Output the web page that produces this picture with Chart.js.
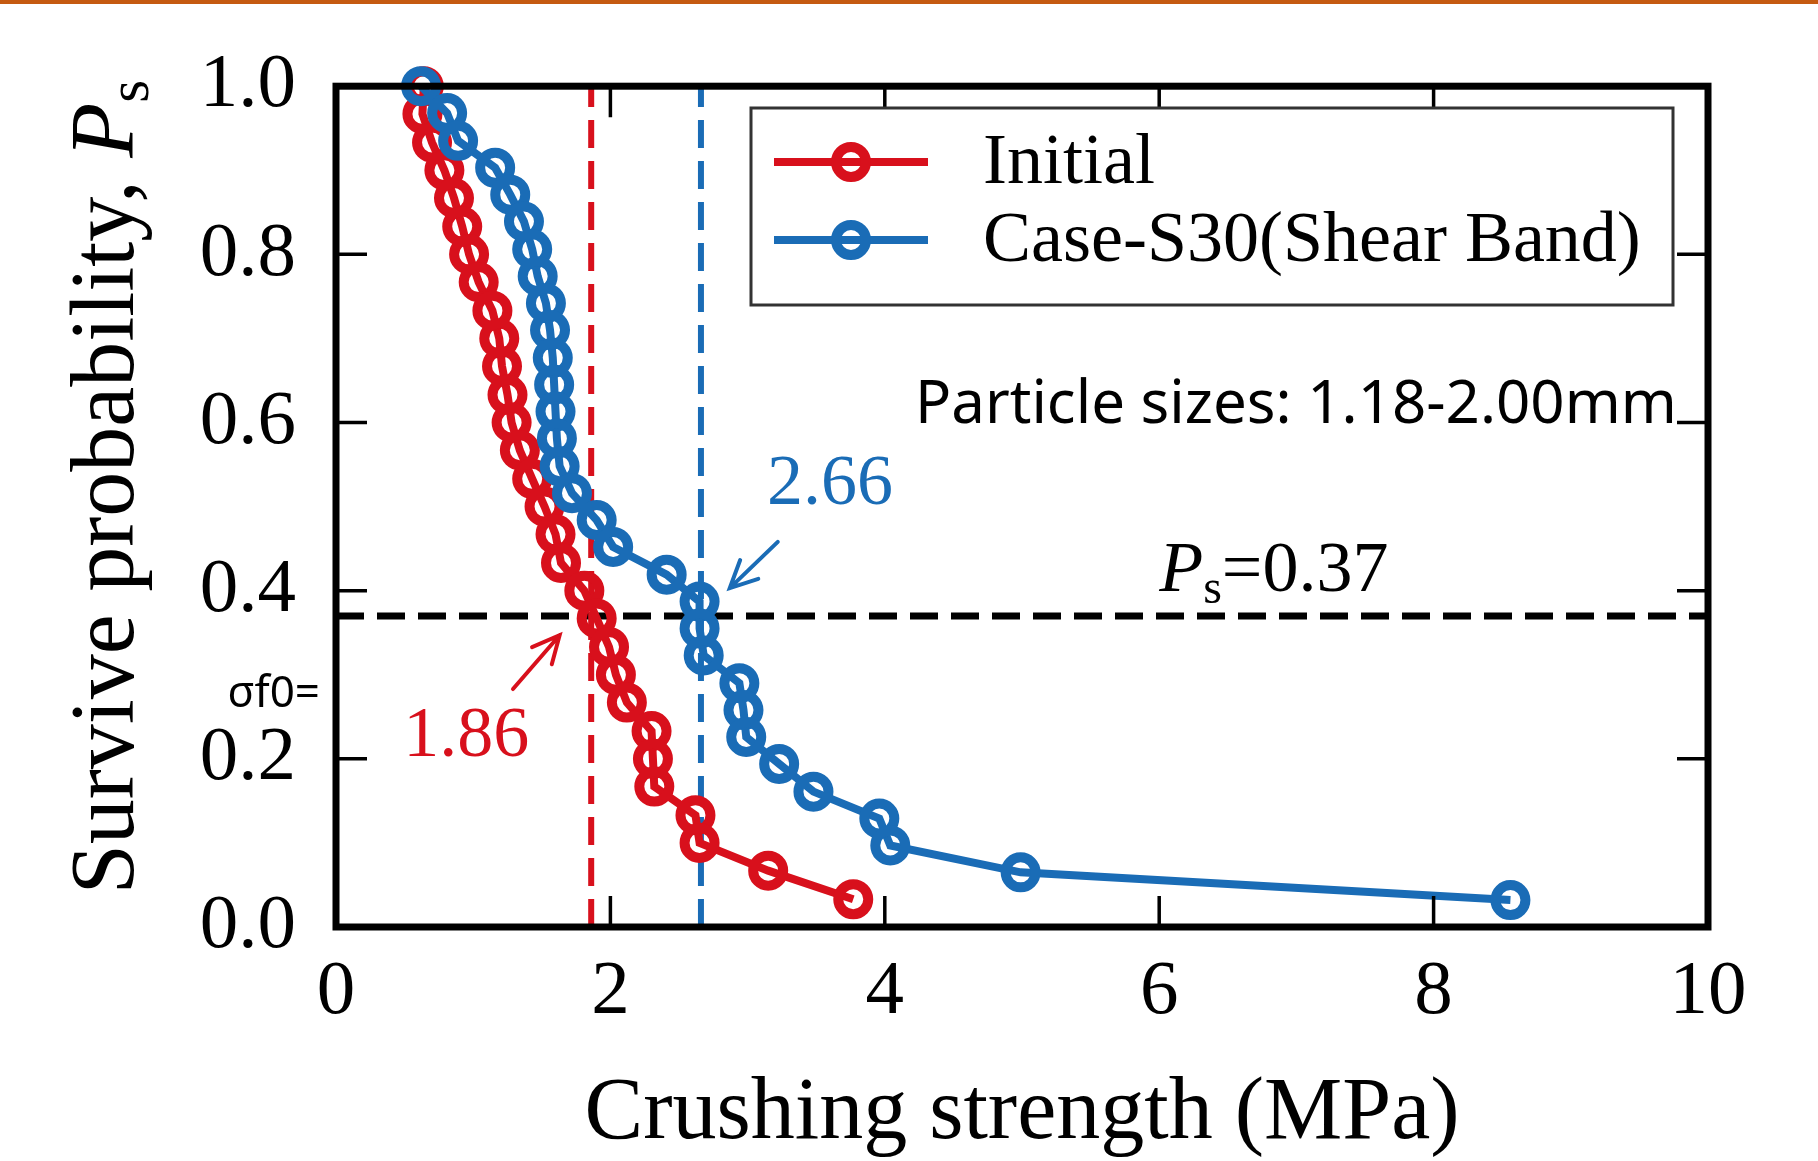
<!DOCTYPE html>
<html>
<head>
<meta charset="utf-8">
<script src="https://cdn.jsdelivr.net/npm/chart.js@4.4.0/dist/chart.umd.min.js"></script>
<style>
  html, body { margin: 0; padding: 0; background: #fff; }
  #wrap { width: 1818px; height: 1161px; }
</style>
</head>
<body>
<div id="wrap"><canvas id="chart" width="1818" height="1161"></canvas></div>
<script>
// survival probability (Ps) and crushing strength (MPa) per particle
var initialProb = [1.000, 0.967, 0.933, 0.900, 0.867, 0.833, 0.800, 0.767, 0.733, 0.700,
                   0.667, 0.633, 0.600, 0.567, 0.533, 0.500, 0.467, 0.433, 0.400, 0.367,
                   0.333, 0.300, 0.267, 0.233, 0.200, 0.167, 0.133, 0.100, 0.067, 0.033];
var initialStrength = [0.64, 0.63, 0.70, 0.79, 0.86, 0.92, 0.97, 1.04, 1.14, 1.19,
                       1.21, 1.25, 1.28, 1.34, 1.43, 1.52, 1.60, 1.64, 1.81, 1.90,
                       1.99, 2.04, 2.12, 2.30, 2.31, 2.32, 2.62, 2.65, 3.15, 3.77];

var shearProb = [1.000, 0.968, 0.935, 0.903, 0.871, 0.839, 0.806, 0.774, 0.742, 0.710,
                 0.677, 0.645, 0.613, 0.581, 0.548, 0.516, 0.484, 0.452, 0.419, 0.387,
                 0.355, 0.323, 0.290, 0.258, 0.226, 0.194, 0.161, 0.129, 0.097, 0.065, 0.032];
var shearStrength = [0.62, 0.81, 0.89, 1.16, 1.27, 1.37, 1.43, 1.47, 1.53, 1.56,
                     1.58, 1.59, 1.60, 1.61, 1.63, 1.72, 1.90, 2.02, 2.41, 2.65,
                     2.65, 2.68, 2.94, 2.97, 2.99, 3.23, 3.48, 3.96, 4.04, 4.99, 8.56];

var xTicks = [0, 2, 4, 6, 8, 10];
var yTicks = [0, 0.2, 0.4, 0.6, 0.8, 1.0];

// characteristic strengths at Ps = 0.37
var initialSigma = 1.86;
var shearSigma = 2.66;
var psLevel = 0.37;

var RED = '#d8101c';
var BLUE = '#1a6cb6';
var SERIF = '"Liberation Serif", "Times New Roman", serif';
var SANS = '"Noto Sans", "Open Sans", sans-serif';

function pts(xs, ys) {
  return xs.map(function(v, i) { return {x: v, y: ys[i]}; });
}

function arrow(ctx, x1, y1, x2, y2, color) {
  var ang = Math.atan2(y2 - y1, x2 - x1), h = 30, spread = 0.45;
  ctx.save();
  ctx.strokeStyle = color;
  ctx.lineWidth = 4;
  ctx.lineCap = 'round';
  ctx.beginPath();
  ctx.moveTo(x1, y1); ctx.lineTo(x2, y2);
  ctx.moveTo(x2 - h * Math.cos(ang - spread), y2 - h * Math.sin(ang - spread));
  ctx.lineTo(x2, y2);
  ctx.lineTo(x2 - h * Math.cos(ang + spread), y2 - h * Math.sin(ang + spread));
  ctx.stroke();
  ctx.restore();
}

// "P" italic with subscript "s", followed by optional rest; returns width
function drawPs(ctx, x, y, size, rest, measureOnly) {
  ctx.font = 'italic ' + size + 'px ' + SERIF;
  var wP = ctx.measureText('P').width;
  ctx.font = Math.round(size * 0.66) + 'px ' + SERIF;
  var wS = ctx.measureText('s').width;
  ctx.font = size + 'px ' + SERIF;
  var wR = rest ? ctx.measureText(rest).width : 0;
  if (!measureOnly) {
    ctx.font = 'italic ' + size + 'px ' + SERIF;
    ctx.fillText('P', x, y);
    ctx.font = Math.round(size * 0.66) + 'px ' + SERIF;
    ctx.fillText('s', x + wP, y + size * 0.17);
    if (rest) {
      ctx.font = size + 'px ' + SERIF;
      ctx.fillText(rest, x + wP + wS, y);
    }
  }
  return wP + wS + wR;
}

var framePlugin = {
  id: 'frame',
  beforeDraw: function(chart) {
    var ctx = chart.ctx;
    ctx.save();
    ctx.fillStyle = '#fff';
    ctx.fillRect(0, 0, chart.width, chart.height);
    ctx.fillStyle = '#c55a11';
    ctx.fillRect(0, 0, chart.width, 4);
    ctx.restore();
  },
  afterDatasetsDraw: function(chart) {
    var ctx = chart.ctx, a = chart.chartArea;
    var xs = chart.scales.x, ys = chart.scales.y, len = 31;
    ctx.save();
    ctx.strokeStyle = '#000';
    ctx.lineWidth = 3.5;
    ctx.beginPath();
    xTicks.forEach(function(v) {
      var px = xs.getPixelForValue(v);
      ctx.moveTo(px, a.bottom); ctx.lineTo(px, a.bottom - len);
      ctx.moveTo(px, a.top); ctx.lineTo(px, a.top + len);
    });
    yTicks.forEach(function(v) {
      var py = ys.getPixelForValue(v);
      ctx.moveTo(a.left, py); ctx.lineTo(a.left + len, py);
      ctx.moveTo(a.right, py); ctx.lineTo(a.right - len, py);
    });
    ctx.stroke();
    ctx.lineWidth = 7;
    ctx.strokeRect(a.left, a.top, a.right - a.left, a.bottom - a.top);
    ctx.restore();
  },
  afterDraw: function(chart) {
    var ctx = chart.ctx, a = chart.chartArea;
    var xs = chart.scales.x, ys = chart.scales.y;
    var X = function(v) { return xs.getPixelForValue(v); };
    var Y = function(v) { return ys.getPixelForValue(v); };
    var sets = chart.data.datasets;
    ctx.save();

    // legend: Initial on top, shear band below
    ctx.fillStyle = '#fff';
    ctx.fillRect(751, 108, 922, 197);
    ctx.strokeStyle = '#333';
    ctx.lineWidth = 3;
    ctx.strokeRect(751, 108, 922, 197);
    [[sets[1], 162], [sets[0], 240]].forEach(function(e) {
      var ds = e[0], y = e[1];
      ctx.strokeStyle = ds.borderColor;
      ctx.lineWidth = ds.borderWidth;
      ctx.beginPath(); ctx.moveTo(774, y); ctx.lineTo(928, y); ctx.stroke();
      ctx.lineWidth = ds.pointBorderWidth;
      ctx.beginPath(); ctx.arc(851, y, ds.pointRadius, 0, Math.PI * 2); ctx.stroke();
      ctx.fillStyle = '#000';
      ctx.font = '72px ' + SERIF;
      ctx.textBaseline = 'middle';
      ctx.textAlign = 'left';
      ctx.fillText(ds.label, 983, y + 2);
    });

    // annotations
    ctx.textBaseline = 'middle';
    ctx.fillStyle = '#000';
    ctx.font = '60px ' + SANS;
    ctx.fillText('Particle sizes: 1.18-2.00mm', X(4.22), Y(0.62));

    ctx.textAlign = 'center';
    ctx.fillStyle = RED;
    ctx.font = '72px ' + SERIF;
    ctx.fillText(initialSigma.toFixed(2), X(0.95), Y(0.226));
    ctx.fillStyle = BLUE;
    ctx.fillText(shearSigma.toFixed(2), X(3.60), Y(0.525));

    arrow(ctx, X(1.29), Y(0.283), X(1.63), Y(0.347), RED);
    arrow(ctx, X(3.22), Y(0.458), X(2.87), Y(0.403), BLUE);

    ctx.textAlign = 'left';
    ctx.textBaseline = 'alphabetic';
    ctx.fillStyle = '#000';
    drawPs(ctx, X(6.0), Y(0.40), 72, '=' + psLevel.toFixed(2));

    ctx.font = '44px ' + SANS;
    ctx.textAlign = 'right';
    ctx.textBaseline = 'middle';
    ctx.fillText('\u03c3f0=', a.left - 16, Y(0.276));

    // y axis title
    ctx.translate(133, 487);
    ctx.rotate(-Math.PI / 2);
    ctx.textAlign = 'left';
    ctx.textBaseline = 'alphabetic';
    ctx.font = '90px ' + SERIF;
    var head = 'Survive probability, ';
    var wHead = ctx.measureText(head).width;
    var total = wHead + drawPs(ctx, 0, 0, 90, '', true);
    ctx.font = '90px ' + SERIF;
    ctx.fillText(head, -total / 2, 0);
    drawPs(ctx, -total / 2 + wHead, 0, 90, '');
    ctx.restore();
  }
};

var chart = new Chart(document.getElementById('chart'), {
  type: 'scatter',
  data: {
    datasets: [
      {
        label: 'Case-S30(Shear Band)',
        data: pts(shearStrength, shearProb),
        showLine: true,
        borderColor: BLUE,
        borderWidth: 8,
        pointRadius: 15,
        pointBorderWidth: 10,
        pointBorderColor: BLUE,
        pointBackgroundColor: 'rgba(0,0,0,0)',
        clip: false,
        order: 0
      },
      {
        label: 'Initial',
        data: pts(initialStrength, initialProb),
        showLine: true,
        borderColor: RED,
        borderWidth: 8,
        pointRadius: 15,
        pointBorderWidth: 10,
        pointBorderColor: RED,
        pointBackgroundColor: 'rgba(0,0,0,0)',
        clip: false,
        order: 1
      },
      {
        label: 'sigma initial',
        data: [{x: initialSigma, y: 0}, {x: initialSigma, y: 1}],
        showLine: true,
        borderColor: RED,
        borderWidth: 6,
        borderDash: [28, 13],
        pointRadius: 0,
        order: 3
      },
      {
        label: 'sigma shear',
        data: [{x: shearSigma, y: 0}, {x: shearSigma, y: 1}],
        showLine: true,
        borderColor: BLUE,
        borderWidth: 6,
        borderDash: [28, 13],
        pointRadius: 0,
        order: 3
      },
      {
        label: 'Ps level',
        data: [{x: 0, y: psLevel}, {x: 10, y: psLevel}],
        showLine: true,
        borderColor: '#000',
        borderWidth: 7,
        borderDash: [28, 13],
        pointRadius: 0,
        order: 4
      }
    ]
  },
  options: {
    responsive: false,
    animation: false,
    devicePixelRatio: 1,
    layout: { padding: { top: 71, right: 110, left: 0, bottom: 0 } },
    plugins: { legend: { display: false }, tooltip: { enabled: false } },
    scales: {
      x: {
        type: 'linear', min: 0, max: 10,
        afterBuildTicks: function(s) { s.ticks = xTicks.map(function(v) { return {value: v}; }); },
        afterFit: function(s) { s.height = 234; },
        grid: { display: false, drawTicks: false },
        border: { display: false },
        ticks: {
          font: { family: SERIF, size: 77 }, color: '#000', padding: 20,
          maxRotation: 0, autoSkip: false
        },
        title: {
          display: true, text: 'Crushing strength (MPa)', color: '#000',
          font: { family: SERIF, size: 88, lineHeight: 1 },
          padding: { top: 0, bottom: 2 }
        }
      },
      y: {
        type: 'linear', min: 0, max: 1,
        afterBuildTicks: function(s) { s.ticks = yTicks.map(function(v) { return {value: v}; }); },
        afterFit: function(s) { s.width = 336; },
        grid: { display: false, drawTicks: false },
        border: { display: false },
        ticks: {
          font: { family: SERIF, size: 77 }, color: '#000', padding: 40,
          callback: function(v) { return v.toFixed(1); }
        }
      }
    }
  },
  plugins: [framePlugin]
});
</script>
</body>
</html>
